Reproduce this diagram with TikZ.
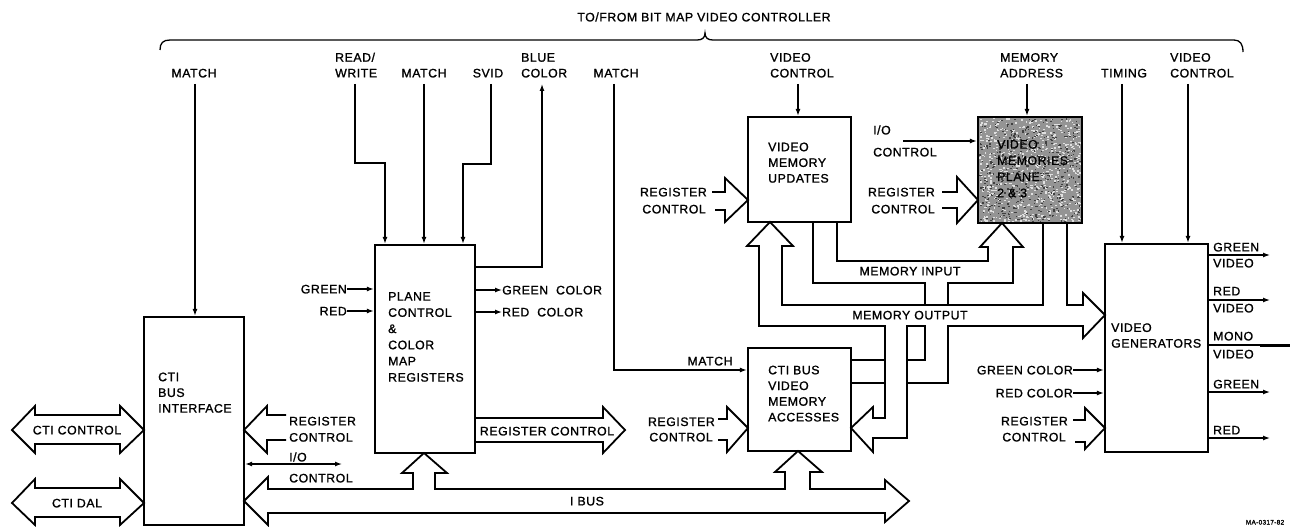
\documentclass[tikz,border=0pt]{standalone}
\usepackage{fontspec}
\setmainfont{Liberation Sans}[LetterSpace=4.5,FakeBold=1.2]
\usetikzlibrary{arrows.meta}
\newcommand\lbl{\fontsize{12.3}{15.7}\selectfont}
\newcommand\lblb{\fontsize{12.3}{16.2}\selectfont}
\begin{document}
\begin{tikzpicture}[x=1pt,y=-1pt,
  box/.style={draw, line width=2.2pt, inner sep=0},
  thin/.style={line width=1.3pt},
  bus/.style={line width=1.8pt, line join=miter},
  t/.style={inner sep=0, font=\lbl, align=left},
  tb/.style={inner sep=0, font=\lblb, align=left},
  >={Latex[length=7pt,width=5pt]}]
\useasboundingbox (0,0) rectangle (1299,527);

% ---------- top brace and title
\node[t, anchor=base] (title) at (704,21.4) {TO/FROM BIT MAP VIDEO CONTROLLER};
\draw[thin] (160,50) .. controls (160,43) and (163,40) .. (170,40) -- (697,40)
  .. controls (702,40) and (705,38) .. (705,33) .. controls (705,38) and (708,40) .. (713,40)
  -- (1234,40) .. controls (1240,40) and (1243,44) .. (1243,52);

% ---------- top labels (anchor = baseline of last line)
\node[t, anchor=base] (m1) at (194,77.4) {MATCH};
\node[t, anchor=base west] (rw) at (335,77.4) {READ/\\WRITE};
\node[t, anchor=base] (m2) at (424,77.4) {MATCH};
\node[t, anchor=base] (svid) at (488,77.4) {SVID};
\node[t, anchor=base west] (blue) at (521,77.4) {BLUE\\COLOR};
\node[t, anchor=base] (m3) at (616,77.4) {MATCH};
\node[t, anchor=base west] (vc1) at (770,77.4) {VIDEO\\CONTROL};
\node[t, anchor=base west] (ma) at (1000,77.4) {MEMORY\\ADDRESS};
\node[t, anchor=base] (tim) at (1124,77.4) {TIMING};
\node[t, anchor=base west] (vc2) at (1170,77.4) {VIDEO\\CONTROL};

% ---------- video memories texture
\fill[black!42] (978,117) rectangle (1082,223);
\pgfmathsetseed{42}
\foreach \i in {1,...,700}{\pgfmathsetmacro\rx{979+101*rnd}\pgfmathsetmacro\ry{118+103*rnd}\fill[black!12] (\rx,\ry) rectangle ++(1.8,1.3);}
\foreach \i in {1,...,500}{\pgfmathsetmacro\rx{979+101*rnd}\pgfmathsetmacro\ry{118+103*rnd}\fill[black!75] (\rx,\ry) rectangle ++(1.6,1.2);}

% ---------- boxes
\node[box, minimum width=100pt, minimum height=208pt] (cti) at (194,421) {};
\node[box, minimum width=100pt, minimum height=208pt] (pcm) at (425,349) {};
\node[box, minimum width=103pt, minimum height=105pt] (vmu) at (799.5,169.5) {};
\node[box, minimum width=103pt, minimum height=103pt] (vma) at (799.5,399.5) {};
\node[box, minimum width=104pt, minimum height=106pt] (vm) at (1030,170) {};
\node[box, minimum width=103pt, minimum height=208pt] (vg) at (1156.5,348) {};

% ---------- box texts (anchor = baseline of last line)
\node[t, anchor=base west] (ctit) at (158,412.6) {CTI\\BUS\\INTERFACE};
\node[tb, anchor=base west] (pcmt) at (388,381.6) {PLANE\\CONTROL\\\&\\COLOR\\MAP\\REGISTERS};
\node[t, anchor=base west] (vmut) at (768,182.6) {VIDEO\\MEMORY\\UPDATES};
\node[t, anchor=base west] (vmat) at (768,421.4) {CTI BUS\\VIDEO\\MEMORY\\ACCESSES};
\node[tb, anchor=base west] (vmt) at (997,197.2) {VIDEO\\MEMORIES\\PLANE\\2 \& 3};
\node[t, anchor=base west] (vgt) at (1111,347.6) {VIDEO\\GENERATORS};

% ---------- thin connectors from the top
\draw[thin,->] (195,84) -- (195,84 |- cti.north);
\draw[thin,->] (355,84) -- (355,163) -- (385,163) -- (385,84 |- pcm.north);
\draw[thin,->] (424,84) -- (424,84 |- pcm.north);
\draw[thin,->] (491,84) -- (491,164) -- (463,164) -- (463,84 |- pcm.north);
\draw[thin,->] (pcm.east |- 0,267) -- (542,267) -- (542,84);
\draw[thin,->] (614,84) -- (614,370) -- (vma.west |- 0,370);
\draw[thin,->] (798,84) -- (798,84 |- vmu.north);
\draw[thin,->] (1027,84) -- (1027,84 |- vm.north);
\draw[thin,->] (1122,84) -- (1122,84 |- vg.north);
\draw[thin,->] (1188,84) -- (1188,84 |- vg.north);

% ---------- plane control side signals
\node[t, anchor=base east] (gin) at (347,293.4) {GREEN};
\node[t, anchor=base east] (rin) at (347,315.4) {RED};
\draw[thin,->] (gin.east |- 0,289) -- (pcm.west |- 0,289);
\draw[thin,->] (rin.east |- 0,311) -- (pcm.west |- 0,311);
\node[t, anchor=base west] (gco) at (502,294.4) {GREEN\ \ COLOR};
\node[t, anchor=base west] (rco) at (502,316.4) {RED\ \ COLOR};
\draw[thin,->] (pcm.east |- 0,290) -- (gco.west |- 0,290);
\draw[thin,->] (pcm.east |- 0,312) -- (rco.west |- 0,312);
\draw[bus] (475,418) -- (603,418) -- (603,407) -- (625,430) -- (603,453) -- (603,442) -- (475,442);
\node[t, anchor=base] (rcout) at (547,435.4) {REGISTER CONTROL};

% ---------- CTI bus interface side
\draw[bus] (12,430) -- (35,406) -- (35,415) -- (120,415) -- (120,406) -- (144,430) -- (120,453) -- (120,444) -- (35,444) -- (35,453) -- cycle;
\node[t, anchor=base] (ctic) at (77,434.4) {CTI CONTROL};
\draw[bus] (12,503) -- (35,479) -- (35,488) -- (120,488) -- (120,479) -- (144,503) -- (120,525) -- (120,517) -- (35,517) -- (35,525) -- cycle;
\node[t, anchor=base] (ctid) at (77,507.4) {CTI DAL};
\draw[bus] (286,415) -- (267,415) -- (267,406) -- (244,430) -- (267,453) -- (267,440) -- (286,440);
\node[tb, anchor=base west] (rc1) at (289,441.6) {REGISTER\\CONTROL};
\node[t, anchor=base west] (io1) at (289,461.4) {I/O};
\node[t, anchor=base west] (io1b) at (289,482.4) {CONTROL};
\draw[thin,<->] (cti.east |- 0,464) -- (342,464);

% ---------- I BUS
\draw[bus] (244,501) -- (268,477) -- (268,489) -- (413,489) -- (413,473) -- (402,473) -- (424,453)
  -- (447,473) -- (435,473) -- (435,489) -- (785,489) -- (785,472) -- (775,472) -- (798,451)
  -- (822,472) -- (810,472) -- (810,489) -- (885,489) -- (885,480) -- (909,501) -- (885,522)
  -- (885,513) -- (268,513) -- (268,525) -- cycle;
\node[t, anchor=base] (ibus) at (587,505.4) {I BUS};

% ---------- register control into VMU, VMA, VM, VG
\draw[bus] (712,192) -- (725,192) -- (725,178) -- (748,200) -- (725,222) -- (725,210) -- (715,210);
\node[t, anchor=base east] (rc2) at (707,196.4) {REGISTER};
\node[t, anchor=base east] (rc2b) at (706,213.4) {CONTROL};
\draw[bus] (718,419) -- (727,419) -- (727,407) -- (748,428) -- (727,452) -- (727,440) -- (718,440);
\node[t, anchor=base east] (rc3) at (715,426) {REGISTER};
\node[t, anchor=base east] (rc3b) at (713,441.4) {CONTROL};
\node[t, anchor=base] (m3b) at (710,365.4) {MATCH};
\draw[bus] (942,192) -- (957,192) -- (957,177) -- (978,200) -- (957,223) -- (957,208) -- (942,208);
\node[t, anchor=base east] (rc4) at (935,196.4) {REGISTER};
\node[t, anchor=base east] (rc4b) at (935,213.4) {CONTROL};
\node[t, anchor=base west] (io2) at (873,134.4) {I/O};
\node[t, anchor=base west] (io2b) at (873,156.4) {CONTROL};
\draw[thin,->] (903,141) -- (vm.west |- 0,141);
\draw[bus] (1073,420) -- (1085,420) -- (1085,408) -- (1105,428) -- (1085,449) -- (1085,442) -- (1075,442);
\node[t, anchor=base east] (rc5) at (1068,425.4) {REGISTER};
\node[t, anchor=base east] (rc5b) at (1066,441.4) {CONTROL};
\node[t, anchor=base east] (gci) at (1073,374.4) {GREEN COLOR};
\node[t, anchor=base east] (rci) at (1073,397.4) {RED COLOR};
\draw[thin,->] (gci.east |- 0,370) -- (vg.west |- 0,370);
\draw[thin,->] (rci.east |- 0,393) -- (vg.west |- 0,393);

% ---------- memory output bus
\draw[bus] (1043,223) -- (1043,305) -- (782,305) -- (782,246) -- (793,246) -- (770,222) -- (747,246)
  -- (759,246) -- (759,326) -- (885,326) -- (885,418) -- (873,418) -- (873,407) -- (851,428)
  -- (873,452) -- (873,438) -- (907,438) -- (907,326) -- (925,326) -- (925,360) -- (907,360);
\draw[bus] (851,360) -- (885,360);
\draw[bus] (851,383) -- (885,383);
\draw[bus] (907,383) -- (948,383) -- (948,326) -- (1083,326) -- (1083,338) -- (1105,315)
  -- (1083,293) -- (1083,305) -- (1067,305) -- (1067,223);
\node[t, anchor=base] (mout) at (910,319.4) {MEMORY OUTPUT};

% ---------- memory input bus
\draw[bus] (837,222) -- (837,261) -- (988,261) -- (988,247) -- (980,247) -- (1002,223) -- (1023,247)
  -- (1013,247) -- (1013,283) -- (948,283) -- (948,305);
\draw[bus] (813,222) -- (813,283) -- (925,283) -- (925,305);
\node[t, anchor=base] (min) at (910,275.4) {MEMORY INPUT};

% ---------- video generator outputs
\draw[thin,->] (vg.east |- 0,255) -- (1270,255);
\draw[thin,->] (vg.east |- 0,300) -- (1270,300);
\draw[thin] (vg.east |- 0,345) -- (1260,345);
\draw[line width=3pt] (1260,345) -- (1290,345);
\draw[thin,->] (vg.east |- 0,392) -- (1270,392);
\draw[thin,->] (vg.east |- 0,438) -- (1270,438);
\node[t, anchor=base west] (o1) at (1213,251.4) {GREEN};
\node[t, anchor=base west] (o1b) at (1213,267.4) {VIDEO};
\node[t, anchor=base west] (o2) at (1213,295.4) {RED};
\node[t, anchor=base west] (o2b) at (1213,312.4) {VIDEO};
\node[t, anchor=base west] (o3) at (1213,340.4) {MONO};
\node[t, anchor=base west] (o3b) at (1213,358.4) {VIDEO};
\node[t, anchor=base west] (o4) at (1213,388.4) {GREEN};
\node[t, anchor=base west] (o5) at (1213,434.4) {RED};

\node[inner sep=0, anchor=base, font=\fontsize{6.5}{7}\selectfont] (ref) at (1265,524.5) {MA-0317-82};
\end{tikzpicture}
\end{document}
